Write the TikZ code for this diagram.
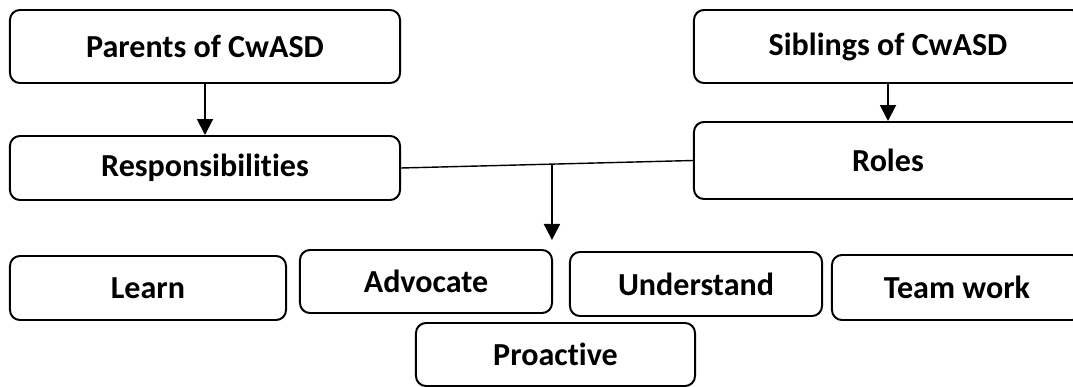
\documentclass[tikz,border=0pt]{standalone}
\usepackage{fontspec}
\setmainfont[Ligatures=NoCommon]{Carlito}
\usetikzlibrary{arrows.meta}

\begin{document}
\begin{tikzpicture}[x=0.025cm, y=-0.025cm,
  box/.style={draw, line width=1.4pt, rounded corners=0.25cm, inner sep=0pt,
    font=\fontsize{22.8}{27}\selectfont\bfseries},
  arr/.style={line width=1.4pt, -{Triangle[width=0.4cm, length=0.4cm]}}]
  \clip (0, 0) rectangle (1073, 387);

  % Top row
  \node[box, minimum width=9.75cm, minimum height=1.825cm] (parents) at (205, 46.5) {Parents of CwASD};
  \node[box, minimum width=9.7cm, minimum height=1.825cm] (siblings) at (888, 46.5) {Siblings of CwASD};

  % Second row
  \node[box, minimum width=9.75cm, minimum height=1.6cm] (resp) at (205, 168) {Responsibilities};
  \node[box, minimum width=9.7cm, minimum height=1.925cm] (roles) at (888, 160.5) {Roles};

  % Bottom boxes
  \node[box, minimum width=6.9cm, minimum height=1.6cm] (learn) at (148, 288) {Learn};
  \node[box, minimum width=6.3cm, minimum height=1.575cm] (advocate) at (426, 281.5) {Advocate};
  \node[box, minimum width=6.3cm, minimum height=1.6cm] (understand) at (696, 284) {Understand};
  \node[box, minimum width=6.25cm, minimum height=1.625cm] (teamwork) at (957, 287.5) {Team work};
  \node[box, minimum width=6.975cm, minimum height=1.575cm] (proactive) at (555.5, 354.5) {Proactive};

  % Connectors
  \draw[arr] (parents) -- (resp);
  \draw[arr] (siblings) -- (roles);
  \draw[line width=1pt] (resp.east) -- (roles.west) coordinate[pos=0.517] (split);
  \coordinate (drop) at (552, 240);
  \draw[arr] (split) -- (split |- drop);
\end{tikzpicture}
\end{document}
